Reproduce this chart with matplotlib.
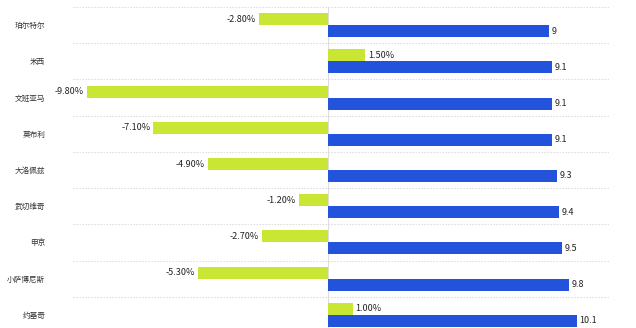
import matplotlib
matplotlib.use('Agg')
import numpy as np
import matplotlib.pyplot as plt

plt.rcParams['font.family'] = ['Noto Sans CJK SC', 'DejaVu Sans']

players = ['珀尔特尔', '米西', '文班亚马', '莫布利', '大洛佩兹', '武切维奇', '申京', '小萨博尼斯', '约基奇']
change_pct = [-2.8, 1.5, -9.8, -7.1, -4.9, -1.2, -2.7, -5.3, 1.0]
rebounds = [9, 9.1, 9.1, 9.1, 9.3, 9.4, 9.5, 9.8, 10.1]

GREEN = '#c9e635'
BLUE = '#2353db'

W, H = 636, 328
fig = plt.figure(figsize=(W / 100, H / 100), dpi=100)
# axes placed in pixel terms (bottom band runs a bit past the image edge)
ax = fig.add_axes([73 / W, 1 - 333 / H, (610 - 73) / W, (333 - 7) / H])

y = np.arange(len(players))
bh = 0.33
ax.barh(y - bh / 2, change_pct, height=bh, color=GREEN, zorder=2)
ax.barh(y + bh / 2, rebounds, height=bh, color=BLUE, zorder=2)

ax.set_xlim(-10.37, 11.46)
ax.set_ylim(len(players) - 0.5, -0.5)

# dotted separators between players
for b in np.arange(-0.5, len(players) + 0.5, 1):
    ax.axhline(b, color='#d8d8d8', lw=0.8, ls=(0, (1.2, 1.5)), zorder=1)
ax.axvline(0, color='#dddddd', lw=0.8, zorder=1)

for yi, v in zip(y, change_pct):
    if v < 0:
        ax.text(v - 0.12, yi - bh / 2, f'{v:.2f}%', ha='right', va='center',
                fontsize=6.5, color='#222222')
    else:
        ax.text(v + 0.12, yi - bh / 2, f'{v:.2f}%', ha='left', va='center',
                fontsize=6.5, color='#222222')
for yi, v in zip(y, rebounds):
    ax.text(v + 0.1, yi + bh / 2, f'{v:g}', ha='left', va='center',
            fontsize=6.5, color='#222222')

ax.set_yticks(y)
ax.set_yticklabels(players, fontsize=5.5, color='#333333')
ax.tick_params(axis='y', length=0, pad=20)
ax.set_xticks([])
for s in ax.spines.values():
    s.set_visible(False)

fig.savefig('out.png', dpi=100)
